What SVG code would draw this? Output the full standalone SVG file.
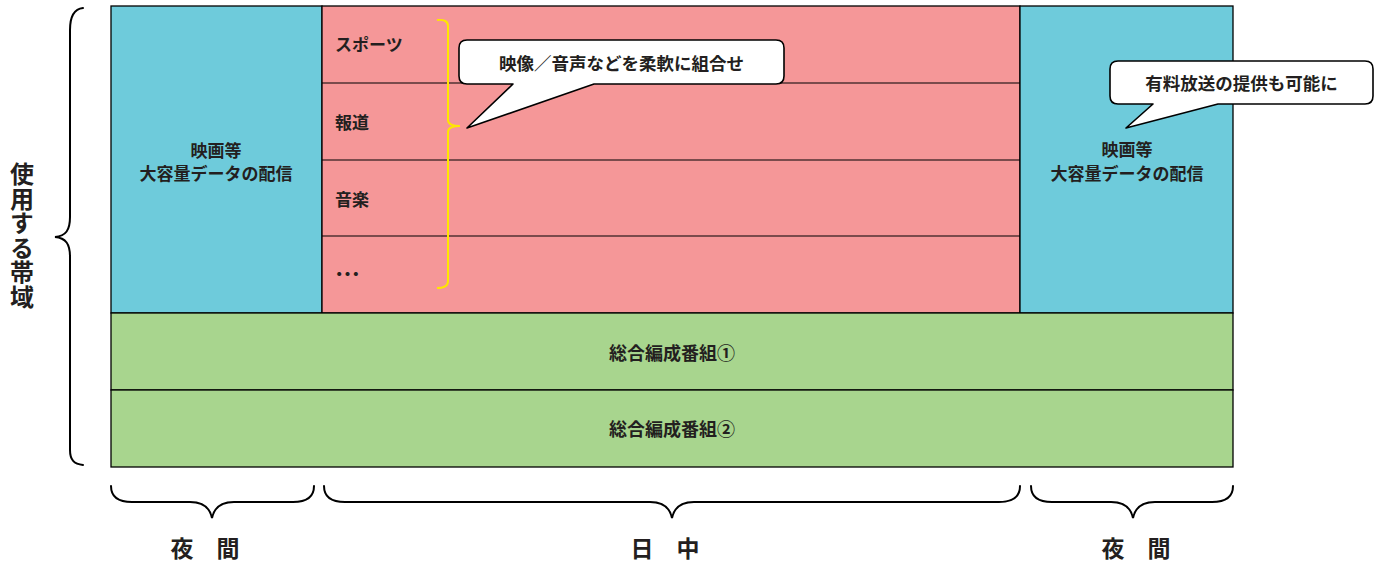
<svg xmlns="http://www.w3.org/2000/svg" width="1378" height="562" viewBox="0 0 1378 562">
<style>
.t{font-family:"Noto Sans CJK JP","Noto Sans CJK SC",sans-serif;font-weight:bold;fill:#231f20}
.c{text-anchor:middle}
.cell{stroke:#000;stroke-width:1.3}
.line{stroke:#000;stroke-width:1.2;fill:none}
.brace{stroke:#000;stroke-width:2;fill:none;stroke-linecap:round}
.callout{fill:#fff;stroke:#000;stroke-width:1.6;stroke-linejoin:round}
</style>
<rect width="1378" height="562" fill="#fff"/>
<g id="night-left">
<rect class="cell" x="111" y="6" width="211" height="307" fill="#6ecbdb"/>
<text class="t c" font-size="17" x="216" y="156.5">映画等</text>
<text class="t c" font-size="17" x="216" y="179.5">大容量データの配信</text>
</g>
<g id="daytime">
<rect class="cell" x="322" y="6" width="698" height="307" fill="#f59798"/>
<line class="line" x1="322" y1="83" x2="1021" y2="83"/>
<line class="line" x1="322" y1="160" x2="1021" y2="160"/>
<line class="line" x1="322" y1="236" x2="1021" y2="236"/>
<text class="t" font-size="17" x="335" y="50.5">スポーツ</text>
<text class="t" font-size="17" x="335" y="128.5">報道</text>
<text class="t" font-size="17" x="335" y="205.5">音楽</text>
<text class="t" font-size="25" x="335" y="284">…</text>
</g>
<g id="night-right">
<rect class="cell" x="1020" y="6" width="213" height="307" fill="#6ecbdb"/>
<text class="t c" font-size="17" x="1127" y="156">映画等</text>
<text class="t c" font-size="17" x="1127" y="179.5">大容量データの配信</text>
</g>
<g id="general-1">
<rect class="cell" x="111" y="313" width="1122" height="77" fill="#a8d58e"/>
<text class="t c" font-size="18" x="672" y="359.8">総合編成番組①</text>
</g>
<g id="general-2">
<rect class="cell" x="111" y="390" width="1122" height="77" fill="#a8d58e"/>
<text class="t c" font-size="18" x="672" y="436">総合編成番組②</text>
</g>
<g id="yellow-bracket">
<path d="M437,20 Q448,19 448,26 V120 Q448,126 460,126 Q448,126 448,132 V281 Q448,288 437,288" fill="none" stroke="#ffe600" stroke-width="2"/>
</g>
<g id="callout-combine">
<path class="callout" d="M467,40 H776 Q784,40 784,48 V76 Q784,84 776,84 H594 L467,128 L513,84 H467 Q459,84 459,76 V48 Q459,40 467,40 Z"/>
<text class="t c" font-size="17.5" x="621.5" y="69.6">映像／音声などを柔軟に組合せ</text>
</g>
<g id="callout-pay">
<path class="callout" d="M1118,61 H1365 Q1373,61 1373,69 V96 Q1373,104 1365,104 H1218 L1126,128 L1153,104 H1118 Q1110,104 1110,96 V69 Q1110,61 1118,61 Z"/>
<text class="t c" font-size="17.5" x="1241.5" y="89.6">有料放送の提供も可能に</text>
</g>
<g id="connectors">
<path class="brace" d="M83,8 C74,9 70,16 70,30 L70,217 C70,230 66,236 55,237 C66,238 70,244 70,257 L70,450 C70,460 74,464 83,465"/>
<path class="brace" d="M111,486 C111,497 118,502 132,502 L190,502 C204,502 210,508 212,518 C214,508 220,502 234,502 L293,502 C307,502 314,497 314,486"/>
<path class="brace" d="M324,486 C324,497 331,502 345,502 L650,502 C664,502 670,508 672,518 C674,508 680,502 694,502 L999,502 C1013,502 1020,497 1020,486"/>
<path class="brace" d="M1031,486 C1031,497 1038,502 1052,502 L1111,502 C1125,502 1131,508 1133,518 C1135,508 1141,502 1155,502 L1212,502 C1226,502 1233,497 1233,486"/>
</g>
<g id="label-band">
<text class="t" font-size="24" x="22" y="162" letter-spacing="0.5" style="writing-mode:vertical-rl">使用する帯域</text>
</g>
<g id="label-night-left"><text class="t c" font-size="23" x="205" y="557">夜　間</text></g>
<g id="label-day"><text class="t c" font-size="23" x="665" y="557">日　中</text></g>
<g id="label-night-right"><text class="t c" font-size="23" x="1136" y="557">夜　間</text></g>
</svg>
